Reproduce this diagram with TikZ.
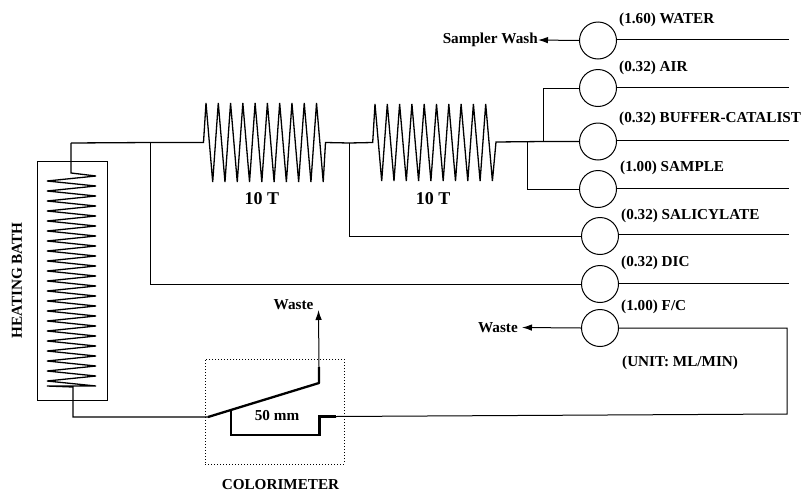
\documentclass[tikz,border=0pt]{standalone}
\usepackage{fontspec}
\setmainfont{Liberation Serif}
\usetikzlibrary{arrows.meta,calc}
\tikzset{
  pump/.style={circle,draw,line width=1pt,minimum size=37pt,inner sep=0pt},
  pipe/.style={line width=1pt},
  coilline/.style={line width=1.3pt,line join=miter,miter limit=3},
  thick pipe/.style={line width=2.3pt},
  lab/.style={font=\fontsize{15.2}{17}\selectfont\bfseries,inner sep=0pt},
  coilt/.style={font=\fontsize{18}{20}\selectfont\bfseries,inner sep=0pt},
  arr/.style={pipe,-{Latex[length=10pt,width=6.5pt]}}
}
\begin{document}
\begin{tikzpicture}[x=1pt,y=-1pt]
\useasboundingbox (0,0) rectangle (809,493);
% pumps
\node[pump] (p1) at (598,40.5) {};
\node[pump] (p2) at (598,88) {};
\node[pump] (p3) at (598,141.5) {};
\node[pump] (p4) at (598,189) {};
\node[pump] (p5) at (600,236) {};
\node[pump] (p6) at (600,284) {};
\node[pump] (p7) at (600,328) {};
% free ends
\foreach \i/\y in {1/39.5,2/87,3/140.5,4/188.5,5/234.5,6/283}{
  \coordinate (e\i) at (789,\y);
  \draw[pipe] (p\i.east |- e\i) -- (e\i);
}
% labels
\node[lab,anchor=west] (l1) at (619,20) {(1.60) WATER};
\node[lab,anchor=west] (l2) at (619,68) {(0.32) AIR};
\node[lab,anchor=west] (l3) at (619,119) {(0.32) BUFFER-CATALIST};
\node[lab,anchor=west] (l4) at (620,167.5) {(1.00) SAMPLE};
\node[lab,anchor=west] (l5) at (621,216) {(0.32) SALICYLATE};
\node[lab,anchor=west] (l6) at (621,263) {(0.32) DIC};
\node[lab,anchor=west] (l7) at (621,307) {(1.00) F/C};
\node[lab,anchor=west] (l8) at (622,363) {(UNIT: ML/MIN)};
\node[lab,anchor=east] (sw) at (538,40) {Sampler Wash};
\node[lab,anchor=east] (w1) at (518,327.5) {Waste};
\node[lab] (w2) at (293.5,305) {Waste};
\node[lab] (mm) at (277,416) {50 mm};
\node[lab] (col) at (280.5,485) {COLORIMETER};
\node[lab,rotate=90] (hb) at (17,280.5) {HEATING BATH};
\node[coilt] (t1) at (262,199) {10 T};
\node[coilt] (t2) at (433,199) {10 T};
% arrows
\draw[arr] (p1.west) -- (sw.east);
\draw[arr] (p7.west) -- ([xshift=4pt]w1.east);
% junctions and connectors
\coordinate (j0) at (71,143);
\coordinate (j1) at (150.5,142.5);
\coordinate (j2) at (349,143);
\coordinate (j3) at (527.7,142);
\coordinate (j4) at (543.7,141.5);
\draw[pipe] (j4) |- (p2.west);
\draw[pipe] (j3) |- (p4.west);
\draw[pipe] (j2) |- (p5.west);
\draw[pipe] (j1) |- (p6.west);
% coil 1
\draw[coilline] (j0) -- (j1) -- (203.5,142.5)
  \foreach \k in {0,...,9}{ -- ({206+12.28*\k},103) -- ({212.7+12.28*\k},182) }
  -- (325.5,142.5) -- (j2);
% coil 2
\draw[coilline] (j2) -- (372.7,142.5)
  \foreach \k in {0,...,9}{ -- ({375+12.3*\k},104) -- ({381.7+12.3*\k},181) }
  -- (496,142) -- (j4) -- (p3.west);
% heating bath
\node[draw,pipe,minimum width=70pt,minimum height=239pt,inner sep=0pt] (bath) at (72,280.5) {};
\coordinate (c1) at (73,387);
\coordinate (c2) at (208,417);
\draw[coilline] (j0) -- (71,173) -- (96,176)
  \foreach \k in {0,...,20}{ -- (47,{181+10*\k}) -- (96,{186+10*\k}) }
  -- (47,386) -- (c1) -- (73,417) -- (c2);
% colorimeter
\node[draw,dotted,pipe,minimum width=139pt,minimum height=105pt,inner sep=0pt] (cbox) at (274.5,411.5) {};
\coordinate (c3) at (319,383);
\coordinate (c4) at (319,367);
\coordinate (c5) at (231,410);
\coordinate (ft) at (787,328);
\draw[thick pipe,line join=round] (c2) -- (c3) -- (c4);
\draw[arr] (c4) -- (318.5,310);
\draw[thick pipe] (c5) -- (231,435) -- (319.5,435) -- (319.5,416.5) -- (336,416.5);
\draw[pipe] (p7.east) -- (ft) -- (787,414) -- (336,416.5);
\end{tikzpicture}
\end{document}
